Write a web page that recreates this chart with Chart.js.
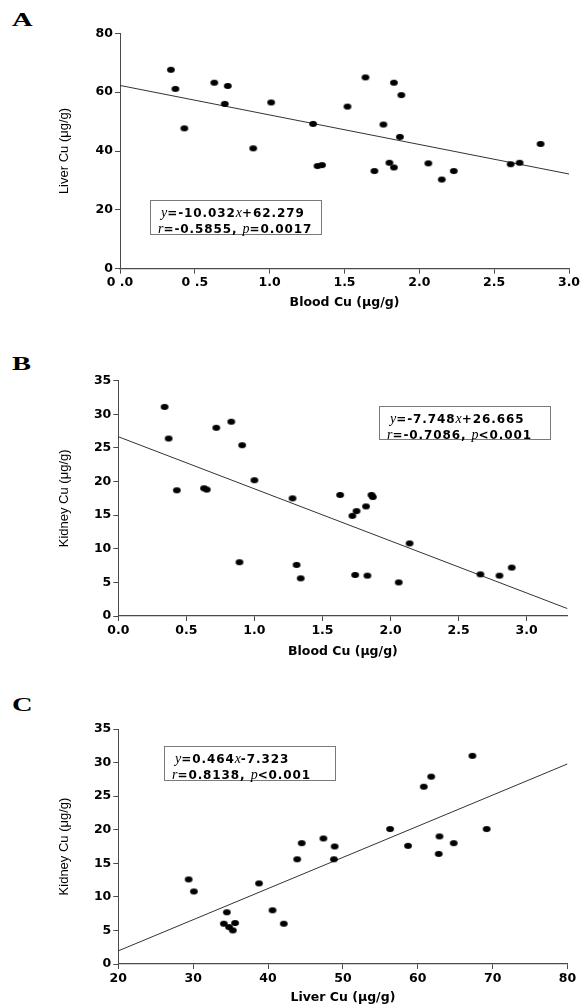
<!DOCTYPE html>
<html>
<head>
<meta charset="utf-8">
<script src="https://cdn.jsdelivr.net/npm/chart.js@4.4.1/dist/chart.umd.min.js"></script>
<style>
    body { margin: 0; background: #fff; width: 583px; height: 1005px; position: relative; overflow: hidden; }
    .panel { position: absolute; left: 0; width: 583px; }
    .tag { position: absolute; font: bold 19px "Liberation Serif", serif; line-height: 19px; transform: scaleX(1.5); transform-origin: 0 0; color: #000; }
    .stat { position: absolute; box-sizing: border-box; border: 1px solid #7a7a7a; background: #fff; padding: 4px 0 0 7px;
            font: bold 12px "DejaVu Sans", sans-serif; letter-spacing: 0.9px; line-height: 13px; color: #000; white-space: nowrap; text-indent: 3px; }
    .stat i { font: italic 14px "Liberation Serif", serif; letter-spacing: 0; }
</style>
</head>
<body>

<div class="tag" style="left:12px;top:10px">A</div>
<div class="tag" style="left:12px;top:354px">B</div>
<div class="tag" style="left:12px;top:695px">C</div>

<div class="panel" style="top:0;height:330px"><canvas id="chartA"></canvas></div>
<div class="panel" style="top:330px;height:330px"><canvas id="chartB"></canvas></div>
<div class="panel" style="top:660px;height:345px"><canvas id="chartC"></canvas></div>

<div class="stat" style="left:150px;top:200px;width:172px;height:35px"><i>y</i>=-10.032<i>x</i>+62.279<br><i>r</i>=-0.5855, <i>p</i>=0.0017</div>
<div class="stat" style="left:379px;top:406px;width:172px;height:34px"><i>y</i>=-7.748<i>x</i>+26.665<br><i>r</i>=-0.7086, <i>p</i>&lt;0.001</div>
<div class="stat" style="left:164px;top:746px;width:172px;height:35px"><i>y</i>=0.464<i>x</i>-7.323<br><i>r</i>=0.8138, <i>p</i>&lt;0.001</div>

<script>
// values (µg/g)
var bloodA = [0.34, 0.37, 0.43, 0.63, 0.70, 0.72, 0.89, 1.01, 1.29, 1.32, 1.35, 1.52, 1.64, 1.70, 1.76, 1.80, 1.83, 1.83, 1.87, 1.88, 2.06, 2.15, 2.23, 2.61, 2.67, 2.81];
var liverA = [67.6, 61.1, 47.7, 63.2, 56.0, 62.1, 40.9, 56.5, 49.2, 34.9, 35.2, 55.1, 65.0, 33.2, 49.0, 36.0, 63.2, 34.4, 44.8, 59.0, 35.8, 30.3, 33.2, 35.5, 36.0, 42.4];

var bloodB = [0.34, 0.37, 0.43, 0.63, 0.65, 0.72, 0.83, 0.89, 0.91, 1.00, 1.28, 1.31, 1.34, 1.63, 1.72, 1.74, 1.75, 1.82, 1.83, 1.86, 1.87, 2.06, 2.14, 2.66, 2.80, 2.89];
var kidneyB = [31.1, 26.4, 18.7, 19.0, 18.8, 28.0, 28.9, 8.0, 25.4, 20.2, 17.5, 7.6, 5.6, 18.0, 14.9, 6.1, 15.6, 16.3, 6.0, 18.0, 17.7, 5.0, 10.8, 6.2, 6.0, 7.2];

var liverC = [29.4, 30.1, 34.1, 34.5, 34.8, 35.3, 35.6, 38.8, 40.6, 42.1, 43.9, 44.5, 47.4, 48.8, 48.9, 56.3, 58.7, 60.8, 61.8, 62.8, 62.9, 64.8, 67.3, 69.2];
var kidneyC = [12.6, 10.8, 6.0, 7.7, 5.5, 5.0, 6.1, 12.0, 8.0, 6.0, 15.6, 18.0, 18.7, 15.6, 17.5, 20.1, 17.6, 26.4, 27.9, 16.4, 19.0, 18.0, 31.0, 20.1];

// regression: [slope, intercept]
var fitA = [-10.032, 62.279];
var fitB = [-7.748, 26.665];
var fitC = [0.464, -7.323];

var xTicksA = [0, 0.5, 1, 1.5, 2, 2.5, 3];
var xLabelsA = ['0 .0', '0 .5', '1.0', '1.5', '2.0', '2.5', '3.0'];
var xTicksB = [0, 0.5, 1, 1.5, 2, 2.5, 3];
var xLabelsB = ['0.0', '0.5', '1.0', '1.5', '2.0', '2.5', '3.0'];
var xTicksC = [20, 30, 40, 50, 60, 70, 80];
var yTicksA = [0, 20, 40, 60, 80];
var yTicksBC = [0, 5, 10, 15, 20, 25, 30, 35];

// filled ellipse used as the marker (the dots in the figure are a bit wider than tall)
var dot = document.createElement('canvas');
dot.width = 10; dot.height = 8;
(function () {
    var c = dot.getContext('2d');
    c.fillStyle = '#000';
    c.beginPath(); c.ellipse(5, 4, 3.9, 3.0, 0, 0, Math.PI * 2); c.fill();
})();

var ink = '#000', axis = '#4a4a4a';
var tickFont = { family: 'DejaVu Sans', weight: 'bold', size: 12.5 };

// g: plot box geometry inside the panel canvas, d: data + labels
function panel(id, g, d) {
    var pts = d.x.map(function (v, i) { return { x: v, y: d.y[i] }; });
    var fit = [d.xMin, d.xMax].map(function (x) { return { x: x, y: d.fit[0] * x + d.fit[1] }; });
    return new Chart(document.getElementById(id), {
        type: 'scatter',
        data: { datasets: [
            { data: pts, pointStyle: dot, pointRadius: 4, backgroundColor: '#000', borderWidth: 0 },
            { type: 'line', data: fit, borderColor: '#333', borderWidth: 1, pointRadius: 0, fill: false, tension: 0 }
        ] },
        options: {
            responsive: true, maintainAspectRatio: false, animation: false, events: [],
            layout: { padding: { top: g.top, right: g.right, bottom: 0, left: 0 } },
            plugins: { legend: { display: false }, tooltip: { enabled: false } },
            scales: {
                x: {
                    type: 'linear', min: d.xMin, max: d.xMax,
                    afterBuildTicks: function (s) { s.ticks = d.xTicks.map(function (v) { return { value: v }; }); },
                    afterFit: function (s) { s.height = g.xh; },
                    grid: { drawOnChartArea: false, drawTicks: true, tickLength: 5, color: axis },
                    border: { color: axis, width: 1.3 },
                    ticks: { padding: 2, color: ink, font: tickFont, maxRotation: 0, autoSkip: false,
                             callback: function (v, i) { return d.xLabels ? d.xLabels[i] : String(v); } },
                    title: { display: true, text: d.xTitle, color: ink, padding: { top: 0, bottom: g.xtPad },
                             font: { family: 'DejaVu Sans', weight: 'bold', size: 12.5 } }
                },
                y: {
                    min: d.yTicks[0], max: d.yTicks[d.yTicks.length - 1],
                    afterBuildTicks: function (s) { s.ticks = d.yTicks.map(function (v) { return { value: v }; }); },
                    afterFit: function (s) { s.width = g.yw; },
                    grid: { drawOnChartArea: false, drawTicks: true, tickLength: 5, color: axis },
                    border: { color: axis, width: 1 },
                    ticks: { padding: 2, color: ink, font: tickFont },
                    title: { display: true, text: d.yTitle, color: ink, padding: { top: 57, bottom: 0 },
                             font: { family: 'Liberation Sans', weight: 'normal', size: 13 } }
                }
            }
        }
    });
}

panel('chartA', { top: 33.3, right: 14, yw: 120, xh: 61.3, xtPad: 19.5 },
      { x: bloodA, y: liverA, fit: fitA, xMin: 0, xMax: 3, xTicks: xTicksA, xLabels: xLabelsA, yTicks: yTicksA,
        xTitle: 'Blood Cu (μg/g)', yTitle: 'Liver Cu (μg/g)' });

panel('chartB', { top: 50.7, right: 15.5, yw: 118.3, xh: 44, xtPad: 0.8 },
      { x: bloodB, y: kidneyB, fit: fitB, xMin: 0, xMax: 3.3, xTicks: xTicksB, xLabels: xLabelsB, yTicks: yTicksBC,
        xTitle: 'Blood Cu (μg/g)', yTitle: 'Kidney Cu (μg/g)' });

panel('chartC', { top: 69, right: 15.5, yw: 118.3, xh: 41, xtPad: 0 },
      { x: liverC, y: kidneyC, fit: fitC, xMin: 20, xMax: 80, xTicks: xTicksC, xLabels: null, yTicks: yTicksBC,
        xTitle: 'Liver Cu (μg/g)', yTitle: 'Kidney Cu (μg/g)' });
</script>
</body>
</html>
